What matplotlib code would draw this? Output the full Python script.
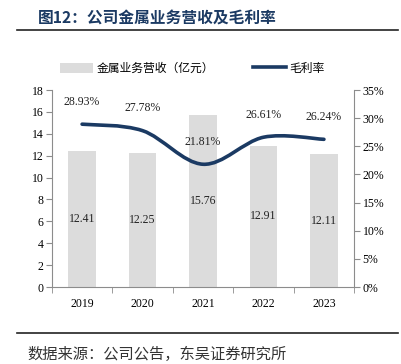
import numpy as np
import matplotlib
matplotlib.use("Agg")
import matplotlib.pyplot as plt
from matplotlib.path import Path
from matplotlib.patches import PathPatch, Patch
from matplotlib.lines import Line2D
from matplotlib.ticker import MultipleLocator, FuncFormatter

plt.rcParams['font.family'] = ['Liberation Serif', 'Noto Sans CJK SC']

# Данные
years = ['2019', '2020', '2021', '2022', '2023']
revenue = [12.41, 12.25, 15.76, 12.91, 12.11]
margin = [28.93, 27.78, 21.81, 26.61, 26.24]

bar_color = '#DCDCDC'
line_color = '#1B3A63'
axis_color = '#8C8C8C'
cjk = ['Noto Sans CJK SC']


def smooth_path(xs, ys):
    """Сглаженная кривая (Catmull-Rom через кривые Безье)"""
    pts = np.column_stack([xs, ys]).astype(float)
    ext = np.vstack([pts[0], pts, pts[-1]])
    verts = [pts[0]]
    codes = [Path.MOVETO]
    for i in range(len(pts) - 1):
        p0, p1, p2, p3 = ext[i], ext[i + 1], ext[i + 2], ext[i + 3]
        c1 = p1 + (p2 - p0) / 6
        c2 = p2 - (p3 - p1) / 6
        verts += [c1, c2, p2]
        codes += [Path.CURVE4] * 3
    return Path(verts, codes)


fig = plt.figure(figsize=(4.02, 3.64), dpi=100)
ax = fig.add_axes([0.129, 0.2115, 0.752, 0.5412])
ax2 = ax.twinx()

x = np.arange(len(years))
ax.bar(x, revenue, width=0.45, color=bar_color, zorder=1)
for xi, v in zip(x, revenue):
    ax.text(xi, v / 2, f'{v:.2f}', ha='center', va='center', fontsize=8.5, color='#222222')

ax.set_xlim(-0.5, len(years) - 0.5)
ax.set_ylim(0, 18)
ax.yaxis.set_major_locator(MultipleLocator(2))
ax.set_xticks(x)
ax.set_xticklabels(years)
ax.set_xticks(np.arange(-0.5, len(years)), minor=True)
ax.tick_params(axis='x', which='major', length=0, pad=8, labelsize=8.5)
ax.tick_params(axis='x', which='minor', length=4, color=axis_color)
ax.tick_params(axis='y', length=4, color=axis_color, labelsize=8.5, pad=2)

ax2.set_ylim(0, 35)
ax2.yaxis.set_major_locator(MultipleLocator(5))
ax2.yaxis.set_major_formatter(FuncFormatter(lambda v, _: f'{v:.0f}%'))
ax2.tick_params(axis='y', length=4, color=axis_color, labelsize=8.5, pad=2)

patch = PathPatch(smooth_path(x, margin), facecolor='none', edgecolor=line_color,
                  lw=2.6, capstyle='round', zorder=3)
ax2.add_patch(patch)
for xi, m in zip(x, margin):
    ax2.annotate(f'{m:.2f}%', (xi, m), xytext=(0, 12), textcoords='offset points',
                 ha='center', va='bottom', fontsize=8.5, color='#222222')

for a in (ax, ax2):
    a.spines['top'].set_visible(False)
    for s in ('left', 'right', 'bottom'):
        a.spines[s].set_color(axis_color)
        a.spines[s].set_linewidth(0.8)
ax.spines['right'].set_visible(False)
ax2.spines['left'].set_visible(False)
ax2.spines['bottom'].set_visible(False)

# Легенда
handles = [Patch(facecolor=bar_color, edgecolor='none'),
           Line2D([0], [0], color=line_color, lw=2.6)]
leg = fig.legend(handles, ['金属业务营收（亿元）', '毛利率'], loc='center',
                 bbox_to_anchor=(0.478, 0.812), ncol=2, frameon=False,
                 handlelength=2.8, handleheight=0.9, columnspacing=3.3,
                 handletextpad=0.3, prop={'family': cjk, 'size': 8.5})

# Заголовок и источник
fig.text(0.095, 0.95, '图12：公司金属业务营收及毛利率', fontsize=11.3, fontweight='bold',
         color='#1B3A63', family=cjk, va='center')
fig.add_artist(Line2D([0.042, 0.99], [0.918, 0.918], color='#222222', lw=1.2))
fig.add_artist(Line2D([0.042, 0.99], [0.085, 0.085], color='#222222', lw=1.2))
fig.text(0.068, 0.025, '数据来源：公司公告，东吴证券研究所', fontsize=11,
         color='#333333', family=cjk, va='center')

fig.savefig('out.png', dpi=100)
